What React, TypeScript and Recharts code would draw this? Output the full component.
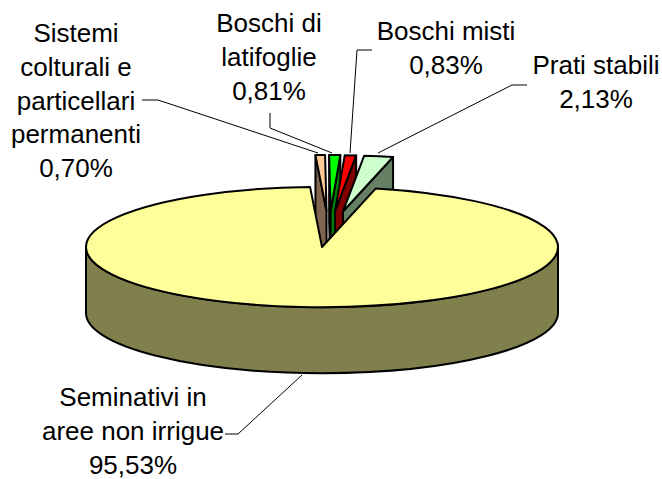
import { Pie, PieChart } from "recharts";

const categories = [
  "Sistemi colturali e particellari permanenti",
  "Boschi di latifoglie",
  "Boschi misti",
  "Prati stabili",
  "Seminativi in aree non irrigue",
];
const shares = [0.7, 0.81, 0.83, 2.13, 95.53];
const shareLabels = ["0,70%", "0,81%", "0,83%", "2,13%", "95,53%"];
const labelLines = [
  ["Sistemi", "colturali e", "particellari", "permanenti"],
  ["Boschi di", "latifoglie"],
  ["Boschi misti"],
  ["Prati stabili"],
  ["Seminativi in", "aree non irrigue"],
];
const topColors = ["#FFCC99", "#00FF00", "#FF0000", "#CCFFCC", "#FFFF99"];
const wallColors = ["#806650", "#008000", "#800000", "#668066", "#80804D"];

// text block centre x, first baseline y, and the leader line
const labelAnchors = [
  [76, 42],
  [269, 32],
  [446, 40],
  [596, 74],
  [133, 406],
];
const leaders = [
  "142,100 158,100 318,153",
  "270,113 270,128 332,153",
  "372,50 357,50 350,153",
  "527,85 512,85 378,153",
  "225,434 238,434 302,375",
];

const WIDTH = 662;
const HEIGHT = 479;
const CX = 322;
const CY = 247;
const RX = 236;
const SQUASH = 0.255;
const DEPTH = 66;
const EXPLODE_X = 86;
const EXPLODE_Y = 36;
const EXPLODE_SHIFT = 7;
const EXPLODE_SCALE = 0.93; // pulled out slices sit further back, so they look smaller
const FIRST_ANGLE = -2.9; // clockwise from 12 o'clock
const LINE_HEIGHT = 33.8;

const rad = (deg: number) => (deg * Math.PI) / 180;

// 3D pie look: recharts gives the angles, we flatten them to an ellipse
function Slice3D(props: any) {
  const { cx, cy, outerRadius, startAngle, endAngle, index } = props;
  const from = 90 - startAngle;
  const to = 90 - endAngle;
  const mid = (from + to) / 2;
  const exploded = to - from < 90;
  const rx = outerRadius * (exploded ? EXPLODE_SCALE : 1);
  const ry = rx * SQUASH;
  const ox = cx + (exploded ? EXPLODE_SHIFT + EXPLODE_X * Math.sin(rad(mid)) : 0);
  const oy = cy - (exploded ? EXPLODE_Y * Math.cos(rad(mid)) : 0);

  const px = (t: number) => ox + rx * Math.sin(rad(t));
  const py = (t: number) => oy - ry * Math.cos(rad(t));
  const pt = (t: number, d = 0) => `${px(t)},${py(t) + d}`;

  const top = `M${ox},${oy} L${pt(from)} A${rx},${ry} 0 ${to - from > 180 ? 1 : 0} 1 ${pt(to)} Z`;
  const radialWall = (t: number) =>
    `M${ox},${oy} L${pt(t)} L${pt(t, DEPTH)} L${ox},${oy + DEPTH} Z`;

  const wallFrom = Math.max(from, 90);
  const wallTo = Math.min(to, 270);

  const common = { stroke: "#000", strokeWidth: 2, strokeLinejoin: "round" as const };
  return (
    <g>
      {Math.sin(rad(from)) < 0 && <path d={radialWall(from)} fill={wallColors[index]} {...common} />}
      {Math.sin(rad(to)) > 0 && <path d={radialWall(to)} fill={wallColors[index]} {...common} />}
      {wallTo > wallFrom && (
        <path
          d={`M${pt(wallFrom)} A${rx},${ry} 0 0 1 ${pt(wallTo)} L${pt(wallTo, DEPTH)} A${rx},${ry} 0 0 0 ${pt(wallFrom, DEPTH)} Z`}
          fill={wallColors[index]}
          {...common}
        />
      )}
      <path d={top} fill={topColors[index]} {...common} />
    </g>
  );
}

function SliceLabel(props: any) {
  const { index } = props;
  const [x, y] = labelAnchors[index];
  const lines = [...labelLines[index], shareLabels[index]];
  return (
    <g>
      <polyline points={leaders[index]} fill="none" stroke="#000" strokeWidth={1} />
      <text textAnchor="middle" fontFamily="Liberation Sans" fontSize={26} fill="#000">
        {lines.map((line, i) => (
          <tspan key={i} x={x} y={y + i * LINE_HEIGHT}>
            {line}
          </tspan>
        ))}
      </text>
    </g>
  );
}

const chartData = categories.map((name, i) => ({ name, value: shares[i] }));

export default function App() {
  return (
    <div style={{ position: "absolute", left: 0, top: 0, width: WIDTH, height: HEIGHT }}>
      <PieChart width={WIDTH} height={HEIGHT} margin={{ top: 0, right: 0, bottom: 0, left: 0 }}>
        <Pie
          data={chartData}
          dataKey="value"
          nameKey="name"
          cx={CX}
          cy={CY}
          innerRadius={0}
          outerRadius={RX}
          startAngle={90 - FIRST_ANGLE}
          endAngle={90 - FIRST_ANGLE - 360}
          shape={Slice3D}
          label={SliceLabel}
          labelLine={false}
          isAnimationActive={false}
        />
      </PieChart>
    </div>
  );
}
